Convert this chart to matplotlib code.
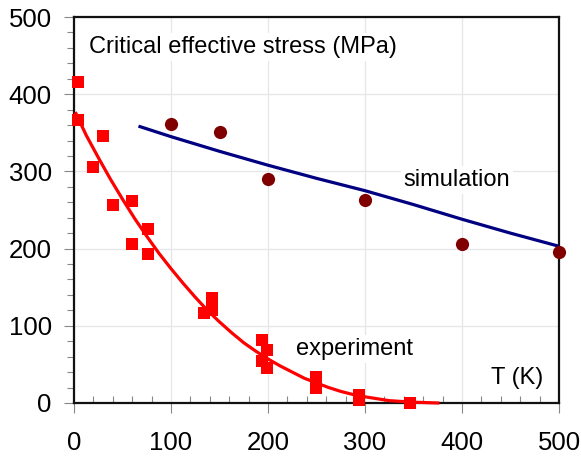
import numpy as np
import matplotlib.pyplot as plt
from matplotlib.ticker import MultipleLocator

plt.rcParams['font.family'] = ['Liberation Sans', 'DejaVu Sans']

# experiment (red squares)
exp_T = [4, 4, 20, 30, 40, 60, 60, 76, 76, 134, 142, 142, 142,
         194, 194, 199, 199, 249, 249, 294, 294, 346]
exp_s = [416, 367, 306, 346, 256, 261, 206, 226, 193, 116, 136, 128, 120,
         82, 55, 68, 45, 34, 19, 10, 4, 0]

# simulation (dark red circles)
sim_T = [100, 150, 200, 300, 400, 500]
sim_s = [361, 351, 290, 263, 206, 196]

# fitted curves
fit_exp_T = [2, 12.5, 25, 37.5, 50, 62.5, 75, 87.5, 100, 112.5, 125, 137.5, 150,
             162.5, 175, 187.5, 200, 212.5, 225, 237.5, 250, 262.5, 275, 287.5,
             300, 325, 350, 375]
fit_exp_s = [375, 347, 318, 290, 264, 239, 216, 194, 174, 155, 137, 120, 105,
             91, 78, 67, 57, 48, 40, 32, 26, 20, 15, 11,
             8, 3, 1, 0]
fit_sim_T = [68, 100, 150, 200, 250, 300, 350, 400, 450, 500]
fit_sim_s = [358, 345, 326, 308, 291, 275, 257, 238, 220, 203]

fig = plt.figure(figsize=(5.81, 4.57), dpi=100)
ax = fig.add_axes([0.1274, 0.1182, 0.8348, 0.8446])

ax.plot(fit_exp_T, fit_exp_s, color='#ff0000', lw=2.3, zorder=3, clip_on=False)
ax.plot(fit_sim_T, fit_sim_s, color='#000080', lw=2.3, zorder=3)
ax.plot(exp_T, exp_s, 's', color='#ff0000', ms=8, mew=0, zorder=4, clip_on=False)
ax.plot(sim_T, sim_s, 'o', color='#800000', ms=9.5, mew=0, zorder=4, clip_on=False)

ax.set_xlim(0, 500)
ax.set_ylim(0, 500)
ax.xaxis.set_major_locator(MultipleLocator(100))
ax.xaxis.set_minor_locator(MultipleLocator(20))
ax.yaxis.set_major_locator(MultipleLocator(100))
ax.yaxis.set_minor_locator(MultipleLocator(20))
ax.grid(True, which='major', color='#e4e6ea', lw=0.9, zorder=0)
ax.set_axisbelow(True)

ax.tick_params(axis='x', which='major', direction='out', length=7, width=0.8,
               labelsize=18.5, pad=13, color='#888888')
ax.tick_params(axis='x', which='minor', direction='in', length=5, width=0.8, color='#888888')
ax.tick_params(axis='y', which='major', direction='out', length=7, width=0.8,
               labelsize=18.5, pad=9, color='#888888')
ax.tick_params(axis='y', which='minor', direction='out', length=5, width=0.8, color='#888888')
for sp in ax.spines.values():
    sp.set_linewidth(1.6)
    sp.set_color('#111111')

box = dict(facecolor='white', edgecolor='none', pad=2)
ax.text(0.031, 0.922, 'Critical effective stress (MPa)', transform=ax.transAxes,
        fontsize=17, va='center', ha='left', bbox=box, zorder=2)
ax.text(0.68, 0.578, 'simulation', transform=ax.transAxes,
        fontsize=17, va='center', ha='left', bbox=box, zorder=2)
ax.text(0.458, 0.14, 'experiment', transform=ax.transAxes,
        fontsize=17, va='center', ha='left', bbox=box, zorder=2)
ax.text(0.967, 0.065, 'T (K)', transform=ax.transAxes,
        fontsize=17, va='center', ha='right', bbox=box, zorder=2)

fig.savefig('out.png', dpi=100)
